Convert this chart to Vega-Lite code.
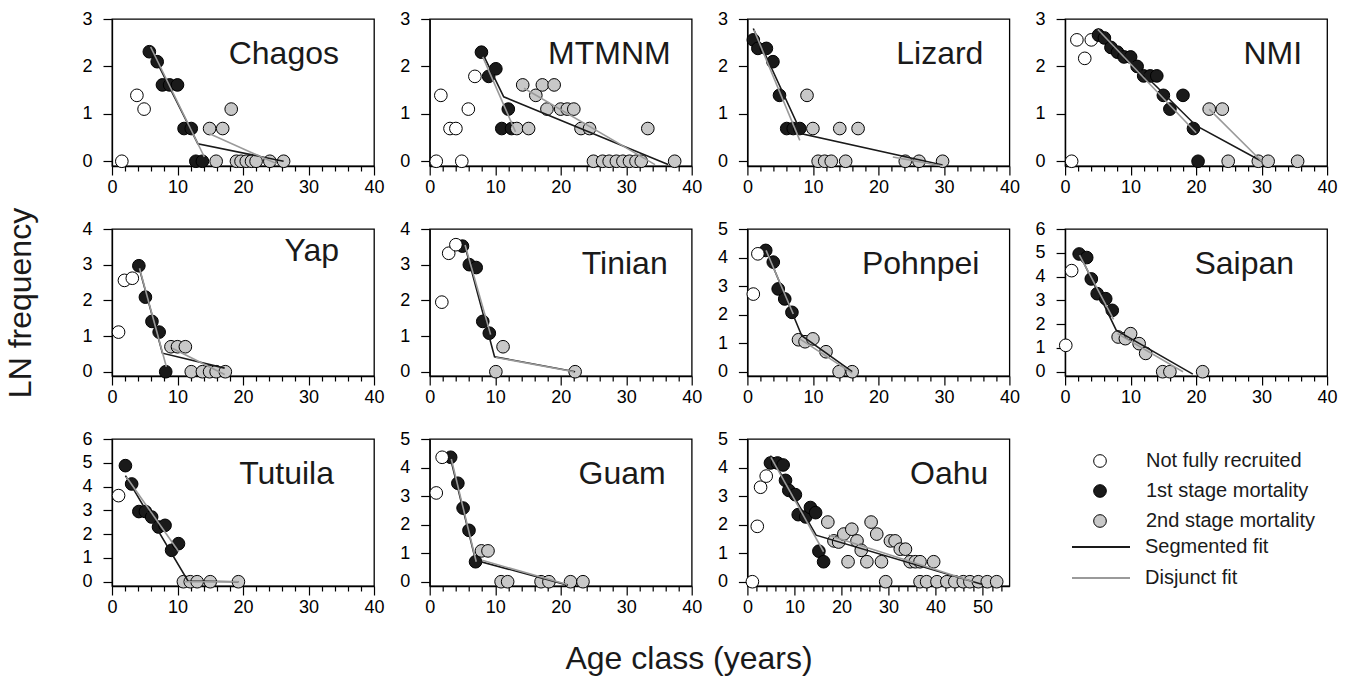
{
"$schema": "https://vega.github.io/schema/vega-lite/v6.json",
"padding": {"left": 4, "top": 9, "right": 5, "bottom": 5},
"config": {
  "font": "Liberation Sans",
  "view": {"stroke": "#000000", "strokeWidth": 1.3},
  "axis": {"domainColor": "#000000", "domainWidth": 1.3, "tickColor": "#000000", "tickWidth": 1.2, "labelColor": "#000000", "labelFontSize": 18, "grid": false, "titleFontWeight": "normal", "titleFontSize": 32, "titleColor": "#1a1a1a", "labelFont": "Liberation Sans", "titleFont": "Liberation Sans", "labelOverlap": false},
  "axisY": {"tickSize": 9, "labelPadding": 11},
  "axisX": {"labelPadding": 3},
  "legend": {"labelFont": "Liberation Sans", "labelColor": "#1a1a1a", "labelLimit": 400}
},
"title": {"text": "Age class (years)", "orient": "bottom", "anchor": "middle", "fontSize": 32, "fontWeight": "normal", "font": "Liberation Sans", "color": "#1a1a1a", "offset": 27, "dx": 18},
"datasets": {
"pts": [
{"site":"Chagos","stage":"Not fully recruited","x":1.5,"y":0},
{"site":"Chagos","stage":"Not fully recruited","x":3.8,"y":1.39},
{"site":"Chagos","stage":"Not fully recruited","x":4.9,"y":1.1},
{"site":"Chagos","stage":"1st stage mortality","x":5.7,"y":2.31},
{"site":"Chagos","stage":"1st stage mortality","x":6.9,"y":2.1},
{"site":"Chagos","stage":"1st stage mortality","x":7.7,"y":1.61},
{"site":"Chagos","stage":"1st stage mortality","x":8.8,"y":1.61},
{"site":"Chagos","stage":"1st stage mortality","x":10,"y":1.61},
{"site":"Chagos","stage":"1st stage mortality","x":11,"y":0.69},
{"site":"Chagos","stage":"1st stage mortality","x":12.1,"y":0.69},
{"site":"Chagos","stage":"1st stage mortality","x":12.8,"y":0},
{"site":"Chagos","stage":"1st stage mortality","x":13.8,"y":0},
{"site":"Chagos","stage":"2nd stage mortality","x":14.9,"y":0.69},
{"site":"Chagos","stage":"2nd stage mortality","x":15.9,"y":0},
{"site":"Chagos","stage":"2nd stage mortality","x":16.9,"y":0.69},
{"site":"Chagos","stage":"2nd stage mortality","x":18.2,"y":1.1},
{"site":"Chagos","stage":"2nd stage mortality","x":19,"y":0},
{"site":"Chagos","stage":"2nd stage mortality","x":19.7,"y":0},
{"site":"Chagos","stage":"2nd stage mortality","x":20.5,"y":0},
{"site":"Chagos","stage":"2nd stage mortality","x":21.3,"y":0},
{"site":"Chagos","stage":"2nd stage mortality","x":22,"y":0},
{"site":"Chagos","stage":"2nd stage mortality","x":24.1,"y":0},
{"site":"Chagos","stage":"2nd stage mortality","x":26.2,"y":0},
{"site":"MTMNM","stage":"Not fully recruited","x":1,"y":0},
{"site":"MTMNM","stage":"Not fully recruited","x":1.7,"y":1.39},
{"site":"MTMNM","stage":"Not fully recruited","x":3.1,"y":0.69},
{"site":"MTMNM","stage":"Not fully recruited","x":4,"y":0.69},
{"site":"MTMNM","stage":"Not fully recruited","x":4.9,"y":0},
{"site":"MTMNM","stage":"Not fully recruited","x":5.9,"y":1.1},
{"site":"MTMNM","stage":"Not fully recruited","x":6.9,"y":1.79},
{"site":"MTMNM","stage":"1st stage mortality","x":7.9,"y":2.3},
{"site":"MTMNM","stage":"1st stage mortality","x":9,"y":1.79},
{"site":"MTMNM","stage":"1st stage mortality","x":10.1,"y":1.95},
{"site":"MTMNM","stage":"1st stage mortality","x":11,"y":0.69},
{"site":"MTMNM","stage":"1st stage mortality","x":12,"y":1.1},
{"site":"MTMNM","stage":"1st stage mortality","x":12.5,"y":0.69},
{"site":"MTMNM","stage":"2nd stage mortality","x":13.3,"y":0.69},
{"site":"MTMNM","stage":"2nd stage mortality","x":14.2,"y":1.61},
{"site":"MTMNM","stage":"2nd stage mortality","x":15.1,"y":0.69},
{"site":"MTMNM","stage":"2nd stage mortality","x":16.2,"y":1.39},
{"site":"MTMNM","stage":"2nd stage mortality","x":17.2,"y":1.61},
{"site":"MTMNM","stage":"2nd stage mortality","x":17.9,"y":1.1},
{"site":"MTMNM","stage":"2nd stage mortality","x":19,"y":1.61},
{"site":"MTMNM","stage":"2nd stage mortality","x":20,"y":1.1},
{"site":"MTMNM","stage":"2nd stage mortality","x":21,"y":1.1},
{"site":"MTMNM","stage":"2nd stage mortality","x":22,"y":1.1},
{"site":"MTMNM","stage":"2nd stage mortality","x":23.1,"y":0.69},
{"site":"MTMNM","stage":"2nd stage mortality","x":24.4,"y":0.69},
{"site":"MTMNM","stage":"2nd stage mortality","x":25,"y":0},
{"site":"MTMNM","stage":"2nd stage mortality","x":26.4,"y":0},
{"site":"MTMNM","stage":"2nd stage mortality","x":27.4,"y":0},
{"site":"MTMNM","stage":"2nd stage mortality","x":28.5,"y":0},
{"site":"MTMNM","stage":"2nd stage mortality","x":29.5,"y":0},
{"site":"MTMNM","stage":"2nd stage mortality","x":30.5,"y":0},
{"site":"MTMNM","stage":"2nd stage mortality","x":31.5,"y":0},
{"site":"MTMNM","stage":"2nd stage mortality","x":32.3,"y":0},
{"site":"MTMNM","stage":"2nd stage mortality","x":33.3,"y":0.69},
{"site":"MTMNM","stage":"2nd stage mortality","x":37.4,"y":0},
{"site":"Lizard","stage":"1st stage mortality","x":0.9,"y":2.56},
{"site":"Lizard","stage":"1st stage mortality","x":1.6,"y":2.38},
{"site":"Lizard","stage":"1st stage mortality","x":2.9,"y":2.38},
{"site":"Lizard","stage":"1st stage mortality","x":3.9,"y":2.1},
{"site":"Lizard","stage":"1st stage mortality","x":4.9,"y":1.39},
{"site":"Lizard","stage":"1st stage mortality","x":6,"y":0.69},
{"site":"Lizard","stage":"1st stage mortality","x":7,"y":0.69},
{"site":"Lizard","stage":"1st stage mortality","x":8,"y":0.69},
{"site":"Lizard","stage":"2nd stage mortality","x":9.1,"y":1.39},
{"site":"Lizard","stage":"2nd stage mortality","x":10,"y":0.69},
{"site":"Lizard","stage":"2nd stage mortality","x":10.8,"y":0},
{"site":"Lizard","stage":"2nd stage mortality","x":11.8,"y":0},
{"site":"Lizard","stage":"2nd stage mortality","x":12.8,"y":0},
{"site":"Lizard","stage":"2nd stage mortality","x":14.1,"y":0.69},
{"site":"Lizard","stage":"2nd stage mortality","x":15,"y":0},
{"site":"Lizard","stage":"2nd stage mortality","x":16.9,"y":0.69},
{"site":"Lizard","stage":"2nd stage mortality","x":24.1,"y":0},
{"site":"Lizard","stage":"2nd stage mortality","x":26.2,"y":0},
{"site":"Lizard","stage":"2nd stage mortality","x":29.8,"y":0},
{"site":"NMI","stage":"Not fully recruited","x":1,"y":0},
{"site":"NMI","stage":"Not fully recruited","x":1.8,"y":2.56},
{"site":"NMI","stage":"Not fully recruited","x":3,"y":2.17},
{"site":"NMI","stage":"Not fully recruited","x":4,"y":2.56},
{"site":"NMI","stage":"1st stage mortality","x":5.1,"y":2.66},
{"site":"NMI","stage":"1st stage mortality","x":6,"y":2.6},
{"site":"NMI","stage":"1st stage mortality","x":7,"y":2.4},
{"site":"NMI","stage":"1st stage mortality","x":8,"y":2.3},
{"site":"NMI","stage":"1st stage mortality","x":9,"y":2.2},
{"site":"NMI","stage":"1st stage mortality","x":10,"y":2.2},
{"site":"NMI","stage":"1st stage mortality","x":11,"y":2.0},
{"site":"NMI","stage":"1st stage mortality","x":12,"y":1.8},
{"site":"NMI","stage":"1st stage mortality","x":13,"y":1.8},
{"site":"NMI","stage":"1st stage mortality","x":14,"y":1.8},
{"site":"NMI","stage":"1st stage mortality","x":15,"y":1.39},
{"site":"NMI","stage":"1st stage mortality","x":16,"y":1.1},
{"site":"NMI","stage":"1st stage mortality","x":18,"y":1.39},
{"site":"NMI","stage":"1st stage mortality","x":19.6,"y":0.69},
{"site":"NMI","stage":"1st stage mortality","x":20.3,"y":0},
{"site":"NMI","stage":"2nd stage mortality","x":22,"y":1.1},
{"site":"NMI","stage":"2nd stage mortality","x":24,"y":1.1},
{"site":"NMI","stage":"2nd stage mortality","x":24.9,"y":0},
{"site":"NMI","stage":"2nd stage mortality","x":29.5,"y":0},
{"site":"NMI","stage":"2nd stage mortality","x":31,"y":0},
{"site":"NMI","stage":"2nd stage mortality","x":35.5,"y":0},
{"site":"Yap","stage":"Not fully recruited","x":1,"y":1.11},
{"site":"Yap","stage":"Not fully recruited","x":1.9,"y":2.56},
{"site":"Yap","stage":"Not fully recruited","x":3.1,"y":2.62},
{"site":"Yap","stage":"1st stage mortality","x":4.1,"y":2.97},
{"site":"Yap","stage":"1st stage mortality","x":5.1,"y":2.09},
{"site":"Yap","stage":"1st stage mortality","x":6.1,"y":1.41},
{"site":"Yap","stage":"1st stage mortality","x":7.2,"y":1.11},
{"site":"Yap","stage":"1st stage mortality","x":8.2,"y":0},
{"site":"Yap","stage":"2nd stage mortality","x":9,"y":0.7},
{"site":"Yap","stage":"2nd stage mortality","x":10,"y":0.7},
{"site":"Yap","stage":"2nd stage mortality","x":11.2,"y":0.7},
{"site":"Yap","stage":"2nd stage mortality","x":12.1,"y":0},
{"site":"Yap","stage":"2nd stage mortality","x":13.8,"y":0},
{"site":"Yap","stage":"2nd stage mortality","x":14.9,"y":0},
{"site":"Yap","stage":"2nd stage mortality","x":15.9,"y":0},
{"site":"Yap","stage":"2nd stage mortality","x":17.3,"y":0},
{"site":"Tinian","stage":"Not fully recruited","x":1.85,"y":1.95},
{"site":"Tinian","stage":"Not fully recruited","x":2.9,"y":3.32},
{"site":"Tinian","stage":"1st stage mortality","x":5,"y":3.52},
{"site":"Tinian","stage":"Not fully recruited","x":4,"y":3.56},
{"site":"Tinian","stage":"1st stage mortality","x":6.05,"y":3.0},
{"site":"Tinian","stage":"1st stage mortality","x":7.1,"y":2.92},
{"site":"Tinian","stage":"1st stage mortality","x":8.1,"y":1.41},
{"site":"Tinian","stage":"1st stage mortality","x":9.1,"y":1.08},
{"site":"Tinian","stage":"2nd stage mortality","x":10.1,"y":0},
{"site":"Tinian","stage":"2nd stage mortality","x":11.2,"y":0.7},
{"site":"Tinian","stage":"2nd stage mortality","x":22.2,"y":0},
{"site":"Pohnpei","stage":"Not fully recruited","x":0.9,"y":2.72},
{"site":"Pohnpei","stage":"1st stage mortality","x":2.8,"y":4.25},
{"site":"Pohnpei","stage":"Not fully recruited","x":1.6,"y":4.13},
{"site":"Pohnpei","stage":"1st stage mortality","x":3.95,"y":3.84},
{"site":"Pohnpei","stage":"1st stage mortality","x":4.7,"y":2.9},
{"site":"Pohnpei","stage":"1st stage mortality","x":5.7,"y":2.55},
{"site":"Pohnpei","stage":"1st stage mortality","x":6.8,"y":2.08},
{"site":"Pohnpei","stage":"2nd stage mortality","x":7.8,"y":1.12},
{"site":"Pohnpei","stage":"2nd stage mortality","x":8.8,"y":1.05},
{"site":"Pohnpei","stage":"2nd stage mortality","x":10,"y":1.15},
{"site":"Pohnpei","stage":"2nd stage mortality","x":12,"y":0.7},
{"site":"Pohnpei","stage":"2nd stage mortality","x":14,"y":0},
{"site":"Pohnpei","stage":"2nd stage mortality","x":16,"y":0},
{"site":"Saipan","stage":"Not fully recruited","x":0.1,"y":1.11},
{"site":"Saipan","stage":"Not fully recruited","x":1,"y":4.25},
{"site":"Saipan","stage":"1st stage mortality","x":2.15,"y":4.95},
{"site":"Saipan","stage":"1st stage mortality","x":3.3,"y":4.8},
{"site":"Saipan","stage":"1st stage mortality","x":4,"y":3.9},
{"site":"Saipan","stage":"1st stage mortality","x":4.9,"y":3.28},
{"site":"Saipan","stage":"1st stage mortality","x":6.2,"y":3.07},
{"site":"Saipan","stage":"1st stage mortality","x":7.2,"y":2.58},
{"site":"Saipan","stage":"2nd stage mortality","x":8.1,"y":1.46},
{"site":"Saipan","stage":"2nd stage mortality","x":9.2,"y":1.39},
{"site":"Saipan","stage":"2nd stage mortality","x":10,"y":1.6},
{"site":"Saipan","stage":"2nd stage mortality","x":11.3,"y":1.18},
{"site":"Saipan","stage":"2nd stage mortality","x":12.3,"y":0.77},
{"site":"Saipan","stage":"2nd stage mortality","x":14.9,"y":0},
{"site":"Saipan","stage":"2nd stage mortality","x":16,"y":0},
{"site":"Saipan","stage":"2nd stage mortality","x":21,"y":0},
{"site":"Tutuila","stage":"Not fully recruited","x":1,"y":3.62},
{"site":"Tutuila","stage":"1st stage mortality","x":2.05,"y":4.88},
{"site":"Tutuila","stage":"1st stage mortality","x":3,"y":4.11},
{"site":"Tutuila","stage":"1st stage mortality","x":4.1,"y":2.95},
{"site":"Tutuila","stage":"1st stage mortality","x":5.1,"y":2.95},
{"site":"Tutuila","stage":"1st stage mortality","x":6.05,"y":2.72},
{"site":"Tutuila","stage":"1st stage mortality","x":7.1,"y":2.3},
{"site":"Tutuila","stage":"1st stage mortality","x":8.1,"y":2.37},
{"site":"Tutuila","stage":"1st stage mortality","x":9.1,"y":1.32},
{"site":"Tutuila","stage":"1st stage mortality","x":10.15,"y":1.6},
{"site":"Tutuila","stage":"2nd stage mortality","x":10.9,"y":0},
{"site":"Tutuila","stage":"2nd stage mortality","x":11.95,"y":0},
{"site":"Tutuila","stage":"2nd stage mortality","x":13,"y":0},
{"site":"Tutuila","stage":"2nd stage mortality","x":15,"y":0},
{"site":"Tutuila","stage":"2nd stage mortality","x":19.3,"y":0},
{"site":"Guam","stage":"Not fully recruited","x":1,"y":3.11},
{"site":"Guam","stage":"1st stage mortality","x":3.2,"y":4.36},
{"site":"Guam","stage":"Not fully recruited","x":1.9,"y":4.36},
{"site":"Guam","stage":"1st stage mortality","x":4.3,"y":3.45},
{"site":"Guam","stage":"1st stage mortality","x":5.1,"y":2.58},
{"site":"Guam","stage":"1st stage mortality","x":6,"y":1.8},
{"site":"Guam","stage":"1st stage mortality","x":7,"y":0.7},
{"site":"Guam","stage":"2nd stage mortality","x":7.9,"y":1.08},
{"site":"Guam","stage":"2nd stage mortality","x":8.9,"y":1.08},
{"site":"Guam","stage":"2nd stage mortality","x":10.9,"y":0},
{"site":"Guam","stage":"2nd stage mortality","x":11.9,"y":0},
{"site":"Guam","stage":"2nd stage mortality","x":17,"y":0},
{"site":"Guam","stage":"2nd stage mortality","x":18.2,"y":0},
{"site":"Guam","stage":"2nd stage mortality","x":21.5,"y":0},
{"site":"Guam","stage":"2nd stage mortality","x":23.4,"y":0},
{"site":"Oahu","stage":"Not fully recruited","x":1.06,"y":0},
{"site":"Oahu","stage":"Not fully recruited","x":2.1,"y":1.94},
{"site":"Oahu","stage":"Not fully recruited","x":2.8,"y":3.31},
{"site":"Oahu","stage":"Not fully recruited","x":4,"y":3.7},
{"site":"Oahu","stage":"1st stage mortality","x":4.9,"y":4.16},
{"site":"Oahu","stage":"1st stage mortality","x":6.4,"y":4.16},
{"site":"Oahu","stage":"1st stage mortality","x":7.6,"y":4.09},
{"site":"Oahu","stage":"1st stage mortality","x":8.1,"y":3.55},
{"site":"Oahu","stage":"1st stage mortality","x":8.8,"y":3.2},
{"site":"Oahu","stage":"1st stage mortality","x":10.2,"y":3.05},
{"site":"Oahu","stage":"1st stage mortality","x":10.8,"y":2.35},
{"site":"Oahu","stage":"1st stage mortality","x":12.4,"y":2.27},
{"site":"Oahu","stage":"1st stage mortality","x":13.4,"y":2.6},
{"site":"Oahu","stage":"1st stage mortality","x":14.5,"y":2.42},
{"site":"Oahu","stage":"1st stage mortality","x":15.2,"y":1.07},
{"site":"Oahu","stage":"1st stage mortality","x":16.2,"y":0.7},
{"site":"Oahu","stage":"2nd stage mortality","x":17.1,"y":2.09},
{"site":"Oahu","stage":"2nd stage mortality","x":18.4,"y":1.43},
{"site":"Oahu","stage":"2nd stage mortality","x":19.4,"y":1.39},
{"site":"Oahu","stage":"2nd stage mortality","x":20.5,"y":1.67},
{"site":"Oahu","stage":"2nd stage mortality","x":21.4,"y":0.7},
{"site":"Oahu","stage":"2nd stage mortality","x":22.2,"y":1.84},
{"site":"Oahu","stage":"2nd stage mortality","x":23.3,"y":1.43},
{"site":"Oahu","stage":"2nd stage mortality","x":24.2,"y":1.1},
{"site":"Oahu","stage":"2nd stage mortality","x":25.4,"y":0.7},
{"site":"Oahu","stage":"2nd stage mortality","x":26.3,"y":2.09},
{"site":"Oahu","stage":"2nd stage mortality","x":27.5,"y":1.67},
{"site":"Oahu","stage":"2nd stage mortality","x":28.5,"y":0.7},
{"site":"Oahu","stage":"2nd stage mortality","x":29.4,"y":0},
{"site":"Oahu","stage":"2nd stage mortality","x":30.4,"y":1.43},
{"site":"Oahu","stage":"2nd stage mortality","x":31.4,"y":1.43},
{"site":"Oahu","stage":"2nd stage mortality","x":32.5,"y":1.14},
{"site":"Oahu","stage":"2nd stage mortality","x":33.6,"y":1.14},
{"site":"Oahu","stage":"2nd stage mortality","x":34.6,"y":0.7},
{"site":"Oahu","stage":"2nd stage mortality","x":35.7,"y":0.7},
{"site":"Oahu","stage":"2nd stage mortality","x":36.7,"y":0.7},
{"site":"Oahu","stage":"2nd stage mortality","x":39.6,"y":0.7},
{"site":"Oahu","stage":"2nd stage mortality","x":36.7,"y":0},
{"site":"Oahu","stage":"2nd stage mortality","x":38.1,"y":0},
{"site":"Oahu","stage":"2nd stage mortality","x":40.3,"y":0},
{"site":"Oahu","stage":"2nd stage mortality","x":42.4,"y":0},
{"site":"Oahu","stage":"2nd stage mortality","x":44.1,"y":0},
{"site":"Oahu","stage":"2nd stage mortality","x":45.9,"y":0},
{"site":"Oahu","stage":"2nd stage mortality","x":47.3,"y":0},
{"site":"Oahu","stage":"2nd stage mortality","x":49.1,"y":0},
{"site":"Oahu","stage":"2nd stage mortality","x":51,"y":0},
{"site":"Oahu","stage":"2nd stage mortality","x":53,"y":0}
],
"fits": [
{"site":"Chagos","fit":"Segmented fit","seg":"s","x":5.7,"y":2.41},
{"site":"Chagos","fit":"Segmented fit","seg":"s","x":13.1,"y":0.37},
{"site":"Chagos","fit":"Segmented fit","seg":"s","x":26.2,"y":0},
{"site":"Chagos","fit":"Disjunct fit","seg":"d1","x":5.9,"y":2.41},
{"site":"Chagos","fit":"Disjunct fit","seg":"d1","x":14.1,"y":0.09},
{"site":"Chagos","fit":"Disjunct fit","seg":"d2","x":14.9,"y":0.58},
{"site":"Chagos","fit":"Disjunct fit","seg":"d2","x":25.1,"y":-0.05},
{"site":"MTMNM","fit":"Segmented fit","seg":"s","x":8.2,"y":2.24},
{"site":"MTMNM","fit":"Segmented fit","seg":"s","x":11.3,"y":1.36},
{"site":"MTMNM","fit":"Segmented fit","seg":"s","x":36.4,"y":-0.07},
{"site":"MTMNM","fit":"Disjunct fit","seg":"d1","x":8.1,"y":2.2},
{"site":"MTMNM","fit":"Disjunct fit","seg":"d1","x":13.1,"y":0.62},
{"site":"MTMNM","fit":"Disjunct fit","seg":"d2","x":14.4,"y":1.54},
{"site":"MTMNM","fit":"Disjunct fit","seg":"d2","x":34.4,"y":-0.07},
{"site":"Lizard","fit":"Segmented fit","seg":"s","x":0.9,"y":2.8},
{"site":"Lizard","fit":"Segmented fit","seg":"s","x":8.3,"y":0.58},
{"site":"Lizard","fit":"Segmented fit","seg":"s","x":29.8,"y":-0.08},
{"site":"Lizard","fit":"Disjunct fit","seg":"d1","x":1.0,"y":2.77},
{"site":"Lizard","fit":"Disjunct fit","seg":"d1","x":8.0,"y":0.44},
{"site":"Lizard","fit":"Disjunct fit","seg":"d2","x":22.2,"y":0.09},
{"site":"Lizard","fit":"Disjunct fit","seg":"d2","x":29.8,"y":-0.1},
{"site":"NMI","fit":"Segmented fit","seg":"s","x":5,"y":2.8},
{"site":"NMI","fit":"Segmented fit","seg":"s","x":20,"y":0.75},
{"site":"NMI","fit":"Segmented fit","seg":"s","x":30,"y":0},
{"site":"NMI","fit":"Disjunct fit","seg":"d1","x":5,"y":2.78},
{"site":"NMI","fit":"Disjunct fit","seg":"d1","x":20,"y":0.6},
{"site":"NMI","fit":"Disjunct fit","seg":"d2","x":22,"y":1.1},
{"site":"NMI","fit":"Disjunct fit","seg":"d2","x":30,"y":0},
{"site":"Yap","fit":"Segmented fit","seg":"s","x":4.1,"y":2.94},
{"site":"Yap","fit":"Segmented fit","seg":"s","x":7.7,"y":0.52},
{"site":"Yap","fit":"Segmented fit","seg":"s","x":17.2,"y":0.1},
{"site":"Yap","fit":"Disjunct fit","seg":"d1","x":4.2,"y":2.9},
{"site":"Yap","fit":"Disjunct fit","seg":"d1","x":8.3,"y":0.14},
{"site":"Yap","fit":"Disjunct fit","seg":"d2","x":9.2,"y":0.66},
{"site":"Yap","fit":"Disjunct fit","seg":"d2","x":17.2,"y":-0.08},
{"site":"Tinian","fit":"Segmented fit","seg":"s","x":5.3,"y":3.58},
{"site":"Tinian","fit":"Segmented fit","seg":"s","x":9.9,"y":0.42},
{"site":"Tinian","fit":"Segmented fit","seg":"s","x":22.2,"y":0},
{"site":"Tinian","fit":"Disjunct fit","seg":"d1","x":5.4,"y":3.55},
{"site":"Tinian","fit":"Disjunct fit","seg":"d1","x":9.3,"y":1.04},
{"site":"Tinian","fit":"Disjunct fit","seg":"d2","x":10.1,"y":0.4},
{"site":"Tinian","fit":"Disjunct fit","seg":"d2","x":22,"y":0},
{"site":"Pohnpei","fit":"Segmented fit","seg":"s","x":2.8,"y":4.3},
{"site":"Pohnpei","fit":"Segmented fit","seg":"s","x":8.3,"y":1.26},
{"site":"Pohnpei","fit":"Segmented fit","seg":"s","x":16,"y":0},
{"site":"Pohnpei","fit":"Disjunct fit","seg":"d1","x":2.85,"y":4.25},
{"site":"Pohnpei","fit":"Disjunct fit","seg":"d1","x":7.0,"y":2.02},
{"site":"Pohnpei","fit":"Disjunct fit","seg":"d2","x":8,"y":1.15},
{"site":"Pohnpei","fit":"Disjunct fit","seg":"d2","x":16,"y":-0.05},
{"site":"Saipan","fit":"Segmented fit","seg":"s","x":2.2,"y":4.95},
{"site":"Saipan","fit":"Segmented fit","seg":"s","x":7.8,"y":1.75},
{"site":"Saipan","fit":"Segmented fit","seg":"s","x":19.5,"y":-0.1},
{"site":"Saipan","fit":"Disjunct fit","seg":"d1","x":2.2,"y":4.9},
{"site":"Saipan","fit":"Disjunct fit","seg":"d1","x":7.4,"y":2.2},
{"site":"Saipan","fit":"Disjunct fit","seg":"d2","x":8,"y":1.6},
{"site":"Saipan","fit":"Disjunct fit","seg":"d2","x":18,"y":0},
{"site":"Tutuila","fit":"Segmented fit","seg":"s","x":2.05,"y":4.46},
{"site":"Tutuila","fit":"Segmented fit","seg":"s","x":11.6,"y":0.03},
{"site":"Tutuila","fit":"Segmented fit","seg":"s","x":19.3,"y":0},
{"site":"Tutuila","fit":"Disjunct fit","seg":"d1","x":2.2,"y":4.4},
{"site":"Tutuila","fit":"Disjunct fit","seg":"d1","x":10.2,"y":1.26},
{"site":"Tutuila","fit":"Disjunct fit","seg":"d2","x":11,"y":0},
{"site":"Tutuila","fit":"Disjunct fit","seg":"d2","x":19.3,"y":0},
{"site":"Guam","fit":"Segmented fit","seg":"s","x":3.2,"y":4.3},
{"site":"Guam","fit":"Segmented fit","seg":"s","x":7,"y":0.75},
{"site":"Guam","fit":"Segmented fit","seg":"s","x":21.1,"y":-0.12},
{"site":"Guam","fit":"Disjunct fit","seg":"d1","x":3.3,"y":4.3},
{"site":"Guam","fit":"Disjunct fit","seg":"d1","x":7.1,"y":0.7},
{"site":"Guam","fit":"Disjunct fit","seg":"d2","x":8,"y":0.75},
{"site":"Guam","fit":"Disjunct fit","seg":"d2","x":21,"y":-0.1},
{"site":"Oahu","fit":"Segmented fit","seg":"s","x":4.9,"y":4.42},
{"site":"Oahu","fit":"Segmented fit","seg":"s","x":14.6,"y":1.63},
{"site":"Oahu","fit":"Segmented fit","seg":"s","x":50,"y":-0.1},
{"site":"Oahu","fit":"Disjunct fit","seg":"d1","x":5,"y":4.36},
{"site":"Oahu","fit":"Disjunct fit","seg":"d1","x":16.2,"y":1.05},
{"site":"Oahu","fit":"Disjunct fit","seg":"d2","x":17.3,"y":1.63},
{"site":"Oahu","fit":"Disjunct fit","seg":"d2","x":48,"y":0}
]
},
"resolve": {"scale": {"x": "independent", "y": "independent", "fill": "shared", "stroke": "shared"}},
"columns": 4,
"bounds": "flush",
"spacing": {"row": 63, "column": 55.7},
"concat": [
{"width": 262, "height": 147,
 "title": {"text": "Chagos", "anchor": "end", "frame": "group", "dx": -35, "offset": -86, "fontSize": 32, "fontWeight": "normal", "baseline": "alphabetic", "color": "#1a1a1a"},
 "encoding": {
  "x": {"field": "x", "type": "quantitative", "scale": {"domain": [0, 40], "nice": false, "zero": false}, "axis": {"title": null, "format": "d", "values": [0,2,4,6,8,10,12,14,16,18,20,22,24,26,28,30,32,34,36,38,40], "tickCount": 100, "labelExpr": "datum.value % 10 === 0 ? datum.label : ''", "tickSize": {"condition": {"test": "datum.value % 10 === 0", "value": 9}, "value": 5}, "labelFlush": false, "labelOverlap": false}},
  "y": {"field": "y", "type": "quantitative", "scale": {"domain": [-0.1, 3], "nice": false, "zero": false}, "axis": {"title": null, "format": "d", "values": [0,1,2,3], "tickCount": 100, "labelOverlap": false}}
 },
 "layer": [
  {"data": {"name": "pts"}, "transform": [{"filter": "datum.site === 'Chagos'"}],
   "mark": {"type": "point", "shape": "circle", "filled": true, "size": 160, "stroke": "#000000", "strokeWidth": 1, "opacity": 1},
   "encoding": {"fill": {"field": "stage", "type": "nominal", "scale": {"domain": ["Not fully recruited","1st stage mortality","2nd stage mortality"], "range": ["#ffffff","#1a1a1a","#c8c8c8"]}, "legend": {"orient": "none", "legendX": 978, "legendY": 432, "title": null, "symbolType": "circle", "symbolSize": 160, "symbolStrokeColor": "#000000", "symbolStrokeWidth": 1, "symbolOpacity": 1, "labelFontSize": 20, "labelOffset": 36, "labelLimit": 400, "rowPadding": 10}}}},
  {"data": {"name": "fits"}, "transform": [{"filter": "datum.site === 'Chagos'"}],
   "mark": {"type": "line", "strokeWidth": 1.6, "clip": true},
   "encoding": {"detail": {"field": "seg", "type": "nominal"}, "stroke": {"field": "fit", "type": "nominal", "scale": {"domain": ["Segmented fit","Disjunct fit"], "range": ["#1a1a1a","#9a9a9a"]}, "legend": {"orient": "none", "legendX": 959, "legendY": 518, "title": null, "symbolType": "stroke", "symbolSize": 3364, "symbolStrokeWidth": 2, "clipHeight": 20, "labelFontSize": 20, "labelOffset": 14, "labelLimit": 400, "rowPadding": 11}}}}
 ]},
{"width": 262, "height": 147,
 "title": {"text": "MTMNM", "anchor": "end", "frame": "group", "dx": -21, "offset": -86, "fontSize": 32, "fontWeight": "normal", "baseline": "alphabetic", "color": "#1a1a1a"},
 "encoding": {
  "x": {"field": "x", "type": "quantitative", "scale": {"domain": [0, 40], "nice": false, "zero": false}, "axis": {"title": null, "format": "d", "values": [0,2,4,6,8,10,12,14,16,18,20,22,24,26,28,30,32,34,36,38,40], "tickCount": 100, "labelExpr": "datum.value % 10 === 0 ? datum.label : ''", "tickSize": {"condition": {"test": "datum.value % 10 === 0", "value": 9}, "value": 5}, "labelFlush": false, "labelOverlap": false}},
  "y": {"field": "y", "type": "quantitative", "scale": {"domain": [-0.1, 3], "nice": false, "zero": false}, "axis": {"title": null, "format": "d", "values": [0,1,2,3], "tickCount": 100, "labelOverlap": false}}
 },
 "layer": [
  {"data": {"name": "pts"}, "transform": [{"filter": "datum.site === 'MTMNM'"}],
   "mark": {"type": "point", "shape": "circle", "filled": true, "size": 160, "stroke": "#000000", "strokeWidth": 1, "opacity": 1},
   "encoding": {"fill": {"field": "stage", "type": "nominal", "scale": {"domain": ["Not fully recruited","1st stage mortality","2nd stage mortality"], "range": ["#ffffff","#1a1a1a","#c8c8c8"]}, "legend": {"orient": "none", "legendX": 978, "legendY": 432, "title": null, "symbolType": "circle", "symbolSize": 160, "symbolStrokeColor": "#000000", "symbolStrokeWidth": 1, "symbolOpacity": 1, "labelFontSize": 20, "labelOffset": 36, "labelLimit": 400, "rowPadding": 10}}}},
  {"data": {"name": "fits"}, "transform": [{"filter": "datum.site === 'MTMNM'"}],
   "mark": {"type": "line", "strokeWidth": 1.6, "clip": true},
   "encoding": {"detail": {"field": "seg", "type": "nominal"}, "stroke": {"field": "fit", "type": "nominal", "scale": {"domain": ["Segmented fit","Disjunct fit"], "range": ["#1a1a1a","#9a9a9a"]}, "legend": {"orient": "none", "legendX": 959, "legendY": 518, "title": null, "symbolType": "stroke", "symbolSize": 3364, "symbolStrokeWidth": 2, "clipHeight": 20, "labelFontSize": 20, "labelOffset": 14, "labelLimit": 400, "rowPadding": 11}}}}
 ]},
{"width": 262, "height": 147,
 "title": {"text": "Lizard", "anchor": "end", "frame": "group", "dx": -26, "offset": -86, "fontSize": 32, "fontWeight": "normal", "baseline": "alphabetic", "color": "#1a1a1a"},
 "encoding": {
  "x": {"field": "x", "type": "quantitative", "scale": {"domain": [0, 40], "nice": false, "zero": false}, "axis": {"title": null, "format": "d", "values": [0,2,4,6,8,10,12,14,16,18,20,22,24,26,28,30,32,34,36,38,40], "tickCount": 100, "labelExpr": "datum.value % 10 === 0 ? datum.label : ''", "tickSize": {"condition": {"test": "datum.value % 10 === 0", "value": 9}, "value": 5}, "labelFlush": false, "labelOverlap": false}},
  "y": {"field": "y", "type": "quantitative", "scale": {"domain": [-0.1, 3], "nice": false, "zero": false}, "axis": {"title": null, "format": "d", "values": [0,1,2,3], "tickCount": 100, "labelOverlap": false}}
 },
 "layer": [
  {"data": {"name": "pts"}, "transform": [{"filter": "datum.site === 'Lizard'"}],
   "mark": {"type": "point", "shape": "circle", "filled": true, "size": 160, "stroke": "#000000", "strokeWidth": 1, "opacity": 1},
   "encoding": {"fill": {"field": "stage", "type": "nominal", "scale": {"domain": ["Not fully recruited","1st stage mortality","2nd stage mortality"], "range": ["#ffffff","#1a1a1a","#c8c8c8"]}, "legend": {"orient": "none", "legendX": 978, "legendY": 432, "title": null, "symbolType": "circle", "symbolSize": 160, "symbolStrokeColor": "#000000", "symbolStrokeWidth": 1, "symbolOpacity": 1, "labelFontSize": 20, "labelOffset": 36, "labelLimit": 400, "rowPadding": 10}}}},
  {"data": {"name": "fits"}, "transform": [{"filter": "datum.site === 'Lizard'"}],
   "mark": {"type": "line", "strokeWidth": 1.6, "clip": true},
   "encoding": {"detail": {"field": "seg", "type": "nominal"}, "stroke": {"field": "fit", "type": "nominal", "scale": {"domain": ["Segmented fit","Disjunct fit"], "range": ["#1a1a1a","#9a9a9a"]}, "legend": {"orient": "none", "legendX": 959, "legendY": 518, "title": null, "symbolType": "stroke", "symbolSize": 3364, "symbolStrokeWidth": 2, "clipHeight": 20, "labelFontSize": 20, "labelOffset": 14, "labelLimit": 400, "rowPadding": 11}}}}
 ]},
{"width": 262, "height": 147,
 "title": {"text": "NMI", "anchor": "end", "frame": "group", "dx": -25, "offset": -86, "fontSize": 32, "fontWeight": "normal", "baseline": "alphabetic", "color": "#1a1a1a"},
 "encoding": {
  "x": {"field": "x", "type": "quantitative", "scale": {"domain": [0, 40], "nice": false, "zero": false}, "axis": {"title": null, "format": "d", "values": [0,2,4,6,8,10,12,14,16,18,20,22,24,26,28,30,32,34,36,38,40], "tickCount": 100, "labelExpr": "datum.value % 10 === 0 ? datum.label : ''", "tickSize": {"condition": {"test": "datum.value % 10 === 0", "value": 9}, "value": 5}, "labelFlush": false, "labelOverlap": false}},
  "y": {"field": "y", "type": "quantitative", "scale": {"domain": [-0.1, 3], "nice": false, "zero": false}, "axis": {"title": null, "format": "d", "values": [0,1,2,3], "tickCount": 100, "labelOverlap": false}}
 },
 "layer": [
  {"data": {"name": "pts"}, "transform": [{"filter": "datum.site === 'NMI'"}],
   "mark": {"type": "point", "shape": "circle", "filled": true, "size": 160, "stroke": "#000000", "strokeWidth": 1, "opacity": 1},
   "encoding": {"fill": {"field": "stage", "type": "nominal", "scale": {"domain": ["Not fully recruited","1st stage mortality","2nd stage mortality"], "range": ["#ffffff","#1a1a1a","#c8c8c8"]}, "legend": {"orient": "none", "legendX": 978, "legendY": 432, "title": null, "symbolType": "circle", "symbolSize": 160, "symbolStrokeColor": "#000000", "symbolStrokeWidth": 1, "symbolOpacity": 1, "labelFontSize": 20, "labelOffset": 36, "labelLimit": 400, "rowPadding": 10}}}},
  {"data": {"name": "fits"}, "transform": [{"filter": "datum.site === 'NMI'"}],
   "mark": {"type": "line", "strokeWidth": 1.6, "clip": true},
   "encoding": {"detail": {"field": "seg", "type": "nominal"}, "stroke": {"field": "fit", "type": "nominal", "scale": {"domain": ["Segmented fit","Disjunct fit"], "range": ["#1a1a1a","#9a9a9a"]}, "legend": {"orient": "none", "legendX": 959, "legendY": 518, "title": null, "symbolType": "stroke", "symbolSize": 3364, "symbolStrokeWidth": 2, "clipHeight": 20, "labelFontSize": 20, "labelOffset": 14, "labelLimit": 400, "rowPadding": 11}}}}
 ]},
{"width": 262, "height": 147,
 "title": {"text": "Yap", "anchor": "end", "frame": "group", "dx": -35, "offset": -86, "fontSize": 32, "fontWeight": "normal", "baseline": "alphabetic", "color": "#1a1a1a"},
 "encoding": {
  "x": {"field": "x", "type": "quantitative", "scale": {"domain": [0, 40], "nice": false, "zero": false}, "axis": {"title": null, "format": "d", "values": [0,2,4,6,8,10,12,14,16,18,20,22,24,26,28,30,32,34,36,38,40], "tickCount": 100, "labelExpr": "datum.value % 10 === 0 ? datum.label : ''", "tickSize": {"condition": {"test": "datum.value % 10 === 0", "value": 9}, "value": 5}, "labelFlush": false, "labelOverlap": false}},
  "y": {"field": "y", "type": "quantitative", "scale": {"domain": [-0.12, 4], "nice": false, "zero": false}, "axis": {"title": "LN frequency", "titlePadding": 44, "format": "d", "values": [0,1,2,3,4], "tickCount": 100, "labelOverlap": false}}
 },
 "layer": [
  {"data": {"name": "pts"}, "transform": [{"filter": "datum.site === 'Yap'"}],
   "mark": {"type": "point", "shape": "circle", "filled": true, "size": 160, "stroke": "#000000", "strokeWidth": 1, "opacity": 1},
   "encoding": {"fill": {"field": "stage", "type": "nominal", "scale": {"domain": ["Not fully recruited","1st stage mortality","2nd stage mortality"], "range": ["#ffffff","#1a1a1a","#c8c8c8"]}, "legend": {"orient": "none", "legendX": 978, "legendY": 432, "title": null, "symbolType": "circle", "symbolSize": 160, "symbolStrokeColor": "#000000", "symbolStrokeWidth": 1, "symbolOpacity": 1, "labelFontSize": 20, "labelOffset": 36, "labelLimit": 400, "rowPadding": 10}}}},
  {"data": {"name": "fits"}, "transform": [{"filter": "datum.site === 'Yap'"}],
   "mark": {"type": "line", "strokeWidth": 1.6, "clip": true},
   "encoding": {"detail": {"field": "seg", "type": "nominal"}, "stroke": {"field": "fit", "type": "nominal", "scale": {"domain": ["Segmented fit","Disjunct fit"], "range": ["#1a1a1a","#9a9a9a"]}, "legend": {"orient": "none", "legendX": 959, "legendY": 518, "title": null, "symbolType": "stroke", "symbolSize": 3364, "symbolStrokeWidth": 2, "clipHeight": 20, "labelFontSize": 20, "labelOffset": 14, "labelLimit": 400, "rowPadding": 11}}}}
 ]},
{"width": 262, "height": 147,
 "title": {"text": "Tinian", "anchor": "end", "frame": "group", "dx": -24, "offset": -86, "fontSize": 32, "fontWeight": "normal", "baseline": "alphabetic", "color": "#1a1a1a"},
 "encoding": {
  "x": {"field": "x", "type": "quantitative", "scale": {"domain": [0, 40], "nice": false, "zero": false}, "axis": {"title": null, "format": "d", "values": [0,2,4,6,8,10,12,14,16,18,20,22,24,26,28,30,32,34,36,38,40], "tickCount": 100, "labelExpr": "datum.value % 10 === 0 ? datum.label : ''", "tickSize": {"condition": {"test": "datum.value % 10 === 0", "value": 9}, "value": 5}, "labelFlush": false, "labelOverlap": false}},
  "y": {"field": "y", "type": "quantitative", "scale": {"domain": [-0.12, 4], "nice": false, "zero": false}, "axis": {"title": null, "format": "d", "values": [0,1,2,3,4], "tickCount": 100, "labelOverlap": false}}
 },
 "layer": [
  {"data": {"name": "pts"}, "transform": [{"filter": "datum.site === 'Tinian'"}],
   "mark": {"type": "point", "shape": "circle", "filled": true, "size": 160, "stroke": "#000000", "strokeWidth": 1, "opacity": 1},
   "encoding": {"fill": {"field": "stage", "type": "nominal", "scale": {"domain": ["Not fully recruited","1st stage mortality","2nd stage mortality"], "range": ["#ffffff","#1a1a1a","#c8c8c8"]}, "legend": {"orient": "none", "legendX": 978, "legendY": 432, "title": null, "symbolType": "circle", "symbolSize": 160, "symbolStrokeColor": "#000000", "symbolStrokeWidth": 1, "symbolOpacity": 1, "labelFontSize": 20, "labelOffset": 36, "labelLimit": 400, "rowPadding": 10}}}},
  {"data": {"name": "fits"}, "transform": [{"filter": "datum.site === 'Tinian'"}],
   "mark": {"type": "line", "strokeWidth": 1.6, "clip": true},
   "encoding": {"detail": {"field": "seg", "type": "nominal"}, "stroke": {"field": "fit", "type": "nominal", "scale": {"domain": ["Segmented fit","Disjunct fit"], "range": ["#1a1a1a","#9a9a9a"]}, "legend": {"orient": "none", "legendX": 959, "legendY": 518, "title": null, "symbolType": "stroke", "symbolSize": 3364, "symbolStrokeWidth": 2, "clipHeight": 20, "labelFontSize": 20, "labelOffset": 14, "labelLimit": 400, "rowPadding": 11}}}}
 ]},
{"width": 262, "height": 147,
 "title": {"text": "Pohnpei", "anchor": "end", "frame": "group", "dx": -30, "offset": -86, "fontSize": 32, "fontWeight": "normal", "baseline": "alphabetic", "color": "#1a1a1a"},
 "encoding": {
  "x": {"field": "x", "type": "quantitative", "scale": {"domain": [0, 40], "nice": false, "zero": false}, "axis": {"title": null, "format": "d", "values": [0,2,4,6,8,10,12,14,16,18,20,22,24,26,28,30,32,34,36,38,40], "tickCount": 100, "labelExpr": "datum.value % 10 === 0 ? datum.label : ''", "tickSize": {"condition": {"test": "datum.value % 10 === 0", "value": 9}, "value": 5}, "labelFlush": false, "labelOverlap": false}},
  "y": {"field": "y", "type": "quantitative", "scale": {"domain": [-0.15, 5], "nice": false, "zero": false}, "axis": {"title": null, "format": "d", "values": [0,1,2,3,4,5], "tickCount": 100, "labelOverlap": false}}
 },
 "layer": [
  {"data": {"name": "pts"}, "transform": [{"filter": "datum.site === 'Pohnpei'"}],
   "mark": {"type": "point", "shape": "circle", "filled": true, "size": 160, "stroke": "#000000", "strokeWidth": 1, "opacity": 1},
   "encoding": {"fill": {"field": "stage", "type": "nominal", "scale": {"domain": ["Not fully recruited","1st stage mortality","2nd stage mortality"], "range": ["#ffffff","#1a1a1a","#c8c8c8"]}, "legend": {"orient": "none", "legendX": 978, "legendY": 432, "title": null, "symbolType": "circle", "symbolSize": 160, "symbolStrokeColor": "#000000", "symbolStrokeWidth": 1, "symbolOpacity": 1, "labelFontSize": 20, "labelOffset": 36, "labelLimit": 400, "rowPadding": 10}}}},
  {"data": {"name": "fits"}, "transform": [{"filter": "datum.site === 'Pohnpei'"}],
   "mark": {"type": "line", "strokeWidth": 1.6, "clip": true},
   "encoding": {"detail": {"field": "seg", "type": "nominal"}, "stroke": {"field": "fit", "type": "nominal", "scale": {"domain": ["Segmented fit","Disjunct fit"], "range": ["#1a1a1a","#9a9a9a"]}, "legend": {"orient": "none", "legendX": 959, "legendY": 518, "title": null, "symbolType": "stroke", "symbolSize": 3364, "symbolStrokeWidth": 2, "clipHeight": 20, "labelFontSize": 20, "labelOffset": 14, "labelLimit": 400, "rowPadding": 11}}}}
 ]},
{"width": 262, "height": 147,
 "title": {"text": "Saipan", "anchor": "end", "frame": "group", "dx": -33, "offset": -86, "fontSize": 32, "fontWeight": "normal", "baseline": "alphabetic", "color": "#1a1a1a"},
 "encoding": {
  "x": {"field": "x", "type": "quantitative", "scale": {"domain": [0, 40], "nice": false, "zero": false}, "axis": {"title": null, "format": "d", "values": [0,2,4,6,8,10,12,14,16,18,20,22,24,26,28,30,32,34,36,38,40], "tickCount": 100, "labelExpr": "datum.value % 10 === 0 ? datum.label : ''", "tickSize": {"condition": {"test": "datum.value % 10 === 0", "value": 9}, "value": 5}, "labelFlush": false, "labelOverlap": false}},
  "y": {"field": "y", "type": "quantitative", "scale": {"domain": [-0.18, 6], "nice": false, "zero": false}, "axis": {"title": null, "format": "d", "values": [0,1,2,3,4,5,6], "tickCount": 100, "labelOverlap": false}}
 },
 "layer": [
  {"data": {"name": "pts"}, "transform": [{"filter": "datum.site === 'Saipan'"}],
   "mark": {"type": "point", "shape": "circle", "filled": true, "size": 160, "stroke": "#000000", "strokeWidth": 1, "opacity": 1},
   "encoding": {"fill": {"field": "stage", "type": "nominal", "scale": {"domain": ["Not fully recruited","1st stage mortality","2nd stage mortality"], "range": ["#ffffff","#1a1a1a","#c8c8c8"]}, "legend": {"orient": "none", "legendX": 978, "legendY": 432, "title": null, "symbolType": "circle", "symbolSize": 160, "symbolStrokeColor": "#000000", "symbolStrokeWidth": 1, "symbolOpacity": 1, "labelFontSize": 20, "labelOffset": 36, "labelLimit": 400, "rowPadding": 10}}}},
  {"data": {"name": "fits"}, "transform": [{"filter": "datum.site === 'Saipan'"}],
   "mark": {"type": "line", "strokeWidth": 1.6, "clip": true},
   "encoding": {"detail": {"field": "seg", "type": "nominal"}, "stroke": {"field": "fit", "type": "nominal", "scale": {"domain": ["Segmented fit","Disjunct fit"], "range": ["#1a1a1a","#9a9a9a"]}, "legend": {"orient": "none", "legendX": 959, "legendY": 518, "title": null, "symbolType": "stroke", "symbolSize": 3364, "symbolStrokeWidth": 2, "clipHeight": 20, "labelFontSize": 20, "labelOffset": 14, "labelLimit": 400, "rowPadding": 11}}}}
 ]},
{"width": 262, "height": 147,
 "title": {"text": "Tutuila", "anchor": "end", "frame": "group", "dx": -40, "offset": -86, "fontSize": 32, "fontWeight": "normal", "baseline": "alphabetic", "color": "#1a1a1a"},
 "encoding": {
  "x": {"field": "x", "type": "quantitative", "scale": {"domain": [0, 40], "nice": false, "zero": false}, "axis": {"title": null, "format": "d", "values": [0,2,4,6,8,10,12,14,16,18,20,22,24,26,28,30,32,34,36,38,40], "tickCount": 100, "labelExpr": "datum.value % 10 === 0 ? datum.label : ''", "tickSize": {"condition": {"test": "datum.value % 10 === 0", "value": 9}, "value": 5}, "labelFlush": false, "labelOverlap": false}},
  "y": {"field": "y", "type": "quantitative", "scale": {"domain": [-0.18, 6], "nice": false, "zero": false}, "axis": {"title": null, "format": "d", "values": [0,1,2,3,4,5,6], "tickCount": 100, "labelOverlap": false}}
 },
 "layer": [
  {"data": {"name": "pts"}, "transform": [{"filter": "datum.site === 'Tutuila'"}],
   "mark": {"type": "point", "shape": "circle", "filled": true, "size": 160, "stroke": "#000000", "strokeWidth": 1, "opacity": 1},
   "encoding": {"fill": {"field": "stage", "type": "nominal", "scale": {"domain": ["Not fully recruited","1st stage mortality","2nd stage mortality"], "range": ["#ffffff","#1a1a1a","#c8c8c8"]}, "legend": {"orient": "none", "legendX": 978, "legendY": 432, "title": null, "symbolType": "circle", "symbolSize": 160, "symbolStrokeColor": "#000000", "symbolStrokeWidth": 1, "symbolOpacity": 1, "labelFontSize": 20, "labelOffset": 36, "labelLimit": 400, "rowPadding": 10}}}},
  {"data": {"name": "fits"}, "transform": [{"filter": "datum.site === 'Tutuila'"}],
   "mark": {"type": "line", "strokeWidth": 1.6, "clip": true},
   "encoding": {"detail": {"field": "seg", "type": "nominal"}, "stroke": {"field": "fit", "type": "nominal", "scale": {"domain": ["Segmented fit","Disjunct fit"], "range": ["#1a1a1a","#9a9a9a"]}, "legend": {"orient": "none", "legendX": 959, "legendY": 518, "title": null, "symbolType": "stroke", "symbolSize": 3364, "symbolStrokeWidth": 2, "clipHeight": 20, "labelFontSize": 20, "labelOffset": 14, "labelLimit": 400, "rowPadding": 11}}}}
 ]},
{"width": 262, "height": 147,
 "title": {"text": "Guam", "anchor": "end", "frame": "group", "dx": -26, "offset": -86, "fontSize": 32, "fontWeight": "normal", "baseline": "alphabetic", "color": "#1a1a1a"},
 "encoding": {
  "x": {"field": "x", "type": "quantitative", "scale": {"domain": [0, 40], "nice": false, "zero": false}, "axis": {"title": null, "format": "d", "values": [0,2,4,6,8,10,12,14,16,18,20,22,24,26,28,30,32,34,36,38,40], "tickCount": 100, "labelExpr": "datum.value % 10 === 0 ? datum.label : ''", "tickSize": {"condition": {"test": "datum.value % 10 === 0", "value": 9}, "value": 5}, "labelFlush": false, "labelOverlap": false}},
  "y": {"field": "y", "type": "quantitative", "scale": {"domain": [-0.15, 5], "nice": false, "zero": false}, "axis": {"title": null, "format": "d", "values": [0,1,2,3,4,5], "tickCount": 100, "labelOverlap": false}}
 },
 "layer": [
  {"data": {"name": "pts"}, "transform": [{"filter": "datum.site === 'Guam'"}],
   "mark": {"type": "point", "shape": "circle", "filled": true, "size": 160, "stroke": "#000000", "strokeWidth": 1, "opacity": 1},
   "encoding": {"fill": {"field": "stage", "type": "nominal", "scale": {"domain": ["Not fully recruited","1st stage mortality","2nd stage mortality"], "range": ["#ffffff","#1a1a1a","#c8c8c8"]}, "legend": {"orient": "none", "legendX": 978, "legendY": 432, "title": null, "symbolType": "circle", "symbolSize": 160, "symbolStrokeColor": "#000000", "symbolStrokeWidth": 1, "symbolOpacity": 1, "labelFontSize": 20, "labelOffset": 36, "labelLimit": 400, "rowPadding": 10}}}},
  {"data": {"name": "fits"}, "transform": [{"filter": "datum.site === 'Guam'"}],
   "mark": {"type": "line", "strokeWidth": 1.6, "clip": true},
   "encoding": {"detail": {"field": "seg", "type": "nominal"}, "stroke": {"field": "fit", "type": "nominal", "scale": {"domain": ["Segmented fit","Disjunct fit"], "range": ["#1a1a1a","#9a9a9a"]}, "legend": {"orient": "none", "legendX": 959, "legendY": 518, "title": null, "symbolType": "stroke", "symbolSize": 3364, "symbolStrokeWidth": 2, "clipHeight": 20, "labelFontSize": 20, "labelOffset": 14, "labelLimit": 400, "rowPadding": 11}}}}
 ]},
{"width": 262, "height": 147,
 "title": {"text": "Oahu", "anchor": "end", "frame": "group", "dx": -21, "offset": -86, "fontSize": 32, "fontWeight": "normal", "baseline": "alphabetic", "color": "#1a1a1a"},
 "encoding": {
  "x": {"field": "x", "type": "quantitative", "scale": {"domain": [0, 55.7], "nice": false, "zero": false}, "axis": {"title": null, "format": "d", "values": [0,2,4,6,8,10,12,14,16,18,20,22,24,26,28,30,32,34,36,38,40,42,44,46,48,50,52,54], "tickCount": 100, "labelExpr": "datum.value % 10 === 0 ? datum.label : ''", "tickSize": {"condition": {"test": "datum.value % 10 === 0", "value": 9}, "value": 5}, "labelFlush": false, "labelOverlap": false}},
  "y": {"field": "y", "type": "quantitative", "scale": {"domain": [-0.15, 5], "nice": false, "zero": false}, "axis": {"title": null, "format": "d", "values": [0,1,2,3,4,5], "tickCount": 100, "labelOverlap": false}}
 },
 "layer": [
  {"data": {"name": "pts"}, "transform": [{"filter": "datum.site === 'Oahu'"}],
   "mark": {"type": "point", "shape": "circle", "filled": true, "size": 160, "stroke": "#000000", "strokeWidth": 1, "opacity": 1},
   "encoding": {"fill": {"field": "stage", "type": "nominal", "scale": {"domain": ["Not fully recruited","1st stage mortality","2nd stage mortality"], "range": ["#ffffff","#1a1a1a","#c8c8c8"]}, "legend": {"orient": "none", "legendX": 978, "legendY": 432, "title": null, "symbolType": "circle", "symbolSize": 160, "symbolStrokeColor": "#000000", "symbolStrokeWidth": 1, "symbolOpacity": 1, "labelFontSize": 20, "labelOffset": 36, "labelLimit": 400, "rowPadding": 10}}}},
  {"data": {"name": "fits"}, "transform": [{"filter": "datum.site === 'Oahu'"}],
   "mark": {"type": "line", "strokeWidth": 1.6, "clip": true},
   "encoding": {"detail": {"field": "seg", "type": "nominal"}, "stroke": {"field": "fit", "type": "nominal", "scale": {"domain": ["Segmented fit","Disjunct fit"], "range": ["#1a1a1a","#9a9a9a"]}, "legend": {"orient": "none", "legendX": 959, "legendY": 518, "title": null, "symbolType": "stroke", "symbolSize": 3364, "symbolStrokeWidth": 2, "clipHeight": 20, "labelFontSize": 20, "labelOffset": 14, "labelLimit": 400, "rowPadding": 11}}}}
 ]}
]
}
